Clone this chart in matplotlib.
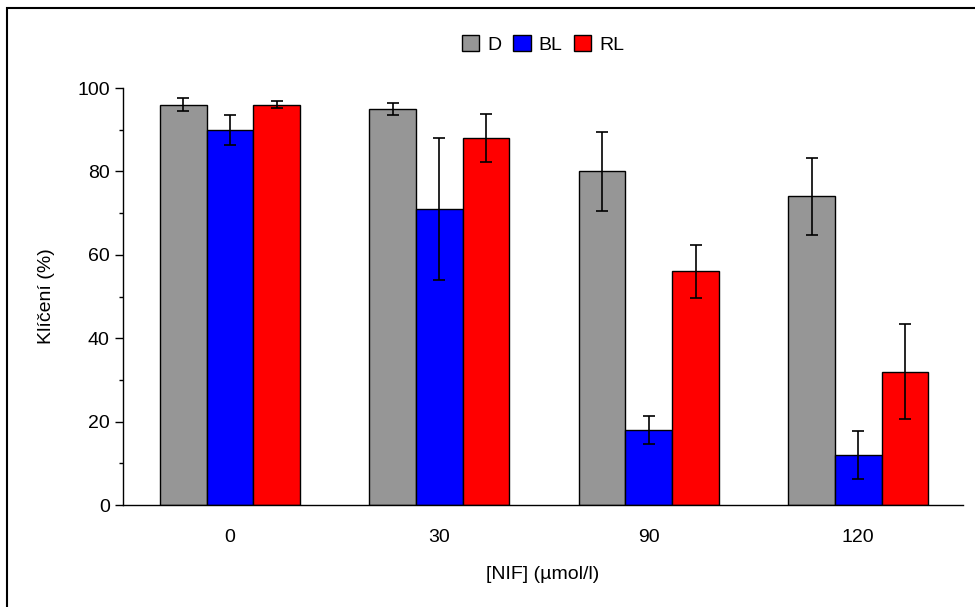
import matplotlib
matplotlib.use('Agg')
import matplotlib.pyplot as plt
import numpy as np
from matplotlib.patches import Rectangle
from matplotlib.ticker import MultipleLocator

plt.rcParams['font.family'] = ['Liberation Sans', 'DejaVu Sans']

# NIF concentrations (umol/l)
conc = ['0', '30', '90', '120']
# germination (%) and error
D = [96, 95, 80, 74]
D_err = [1.6, 1.4, 9.4, 9.2]
BL = [90, 71, 18, 12]
BL_err = [3.6, 17, 3.3, 5.8]
RL = [96, 88, 56, 32]
RL_err = [0.9, 5.8, 6.3, 11.3]

series = [('D', D, D_err, '#969696'),
          ('BL', BL, BL_err, '#0000ff'),
          ('RL', RL, RL_err, '#ff0000')]

fig = plt.figure(figsize=(9.75, 6.07), dpi=100)
ax = fig.add_axes([0.1262, 0.168, 0.8615, 0.687])

x = np.arange(len(conc))
w = 0.223
for i, (name, vals, err, col) in enumerate(series):
    ax.bar(x + (i - 1) * w, vals, w, color=col, edgecolor='black',
           linewidth=1.0, label=name, zorder=2)
    ax.errorbar(x + (i - 1) * w, vals, yerr=err, fmt='none', ecolor='black',
                elinewidth=1.2, capsize=4, capthick=1.2, zorder=3)

ax.set_xlim(-0.51, 3.5)
ax.set_ylim(0, 100)
ax.set_xticks(x)
ax.set_xticklabels(conc)
ax.yaxis.set_major_locator(MultipleLocator(20))
ax.yaxis.set_minor_locator(MultipleLocator(10))
ax.tick_params(axis='x', length=0, pad=17, labelsize=14)
ax.tick_params(axis='y', which='major', length=6, width=1, labelsize=14)
ax.tick_params(axis='y', which='minor', length=3, width=1)
for s in ['top', 'right']:
    ax.spines[s].set_visible(False)
for s in ['left', 'bottom']:
    ax.spines[s].set_linewidth(1.0)

ax.set_xlabel('[NIF] (µmol/l)', fontsize=14, labelpad=15)
ax.set_ylabel('Klíčení (%)', fontsize=14, labelpad=16)

ax.legend(loc='center', bbox_to_anchor=(0.5, 1.105), ncol=3, frameon=False,
          fontsize=14, handlelength=0.9, handleheight=0.9,
          handletextpad=0.4, columnspacing=0.6)

fig.patches.append(Rectangle((7 / 975, -0.1), 1.2, 1.1 - 8 / 607,
                             transform=fig.transFigure, fill=False,
                             edgecolor='black', linewidth=1.5))

fig.savefig('out.png', dpi=100)
